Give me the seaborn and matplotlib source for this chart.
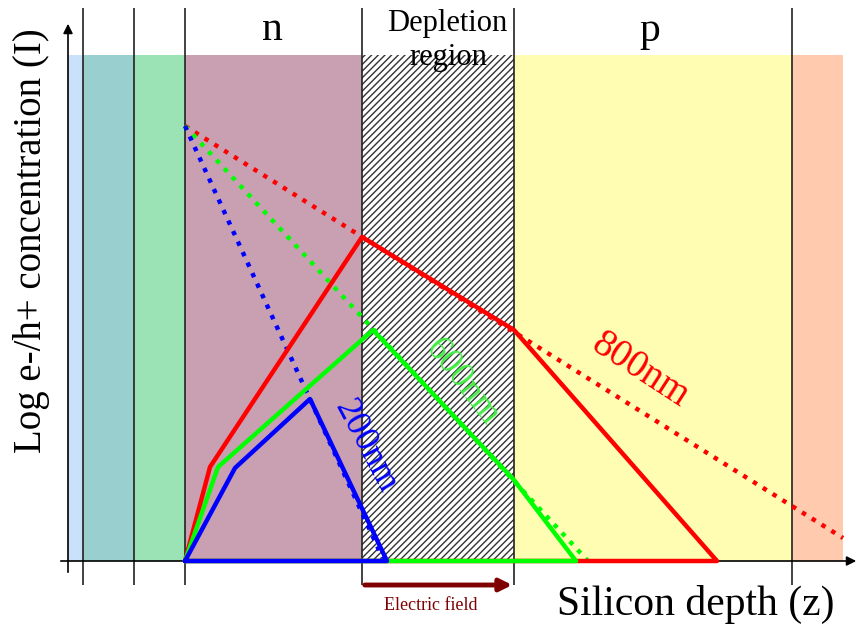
import numpy as np
import pandas as pd
import matplotlib
matplotlib.use("Agg")
import matplotlib.pyplot as plt
import seaborn as sns

# layer boundaries along the silicon depth (z)
band_edges = [68, 83, 134, 185, 362, 514, 792, 843]
band_colors = ["#c9e2fa", "#9acfcf", "#9be3b4", "#c8a0b2", None, "#fefdb2", "#ffcaae"]
band_top = 506
dividers = [83, 134, 185, 362, 514, 792]

# solid concentration profiles
red_z = [185, 210, 362, 514, 717, 185]
red_c = [0, 94, 324, 231, 0, 0]
green_z = [185, 218, 373, 514, 576, 185]
green_c = [0, 94, 231, 81, 0, 0]
blue_z = [185, 235, 310, 387, 185]
blue_c = [0, 93, 162, 0, 0]

# dotted absorption lines
red_dot_z = [185, 843]
red_dot_c = [435, 23]
green_dot_z = [185, 588]
green_dot_c = [435, 0]
blue_dot_z = [185, 384]
blue_dot_c = [435, 0]

sns.set_theme(style="white")
plt.rcParams["font.family"] = ["Liberation Serif", "DejaVu Serif"]
plt.rcParams["text.color"] = "black"
plt.rcParams["hatch.linewidth"] = 1.0

fig = plt.figure(figsize=(8.59, 6.28), dpi=100)
ax = fig.add_axes([0, 0, 1, 1])

# background layers
for i, col in enumerate(band_colors):
    x0, x1 = band_edges[i], band_edges[i + 1]
    if col is None:
        ax.fill_between([x0, x1], 0, band_top, facecolor="white", edgecolor="#333333",
                        hatch="/////", linewidth=0, zorder=1)
    else:
        ax.fill_between([x0, x1], 0, band_top, color=col, linewidth=0, zorder=1)

ax.vlines(dividers, -24, 553, color="#222222", lw=1.2, zorder=2)

# axes with arrows
ax.annotate("", xy=(68, 540), xytext=(68, -14),
            arrowprops=dict(arrowstyle="-|>", color="black", lw=1.2, mutation_scale=14), zorder=3)
ax.annotate("", xy=(859, 0), xytext=(58, 0),
            arrowprops=dict(arrowstyle="-|>", color="black", lw=1.2, mutation_scale=14), zorder=3)

dot = (0, (1, 1.6))
for z, c, col in [(red_dot_z, red_dot_c, "#ff0000"),
                  (green_dot_z, green_dot_c, "#00ff00"),
                  (blue_dot_z, blue_dot_c, "#0000ff")]:
    df = pd.DataFrame({"z": z, "c": c})
    sns.lineplot(data=df, x="z", y="c", sort=False, estimator=None, color=col,
                 lw=3.2, ax=ax, zorder=4, linestyle=dot)

for z, c, col in [(red_z, red_c, "#ff0000"),
                  (green_z, green_c, "#00ff00"),
                  (blue_z, blue_c, "#0000ff")]:
    df = pd.DataFrame({"z": z, "c": c})
    sns.lineplot(data=df, x="z", y="c", sort=False, estimator=None, color=col,
                 lw=3.2, ax=ax, zorder=5)

ax.set_xlim(0, 859)
ax.set_ylim(-67, 561)
ax.axis("off")

# labels
ax.text(272, 531, "n", fontsize=30, ha="center", va="center", zorder=6)
ax.text(650, 530, "p", fontsize=30, ha="center", va="center", zorder=6)
ax.text(447, 538, "Depletion", fontsize=22, ha="center", va="center", zorder=6)
ax.text(448, 503, "region", fontsize=22, ha="center", va="center", zorder=6)
ax.text(640, 191, "800nm", fontsize=28, color="#ff0000", ha="center", va="center",
        rotation=-33, zorder=6)
ax.text(462, 179, "600nm", fontsize=26, color="#44ee44", ha="center", va="center",
        rotation=-52, zorder=6)
ax.text(365, 115, "200nm", fontsize=26, color="#0000ff", ha="center", va="center",
        rotation=-62, zorder=6)

ax.text(32, 320, "Log e-/h+ concentration (I)", fontsize=28, rotation=90,
        ha="center", va="center")
ax.text(696, -43, "Silicon depth (z)", fontsize=30, ha="center", va="center")

ax.annotate("", xy=(515, -24), xytext=(362, -24),
            arrowprops=dict(arrowstyle="-|>", color="#7f0000", lw=3.5, mutation_scale=18))
ax.text(431, -44, "Electric field", fontsize=13, color="#7f0000", ha="center", va="center")

fig.savefig("out.png", dpi=100)
